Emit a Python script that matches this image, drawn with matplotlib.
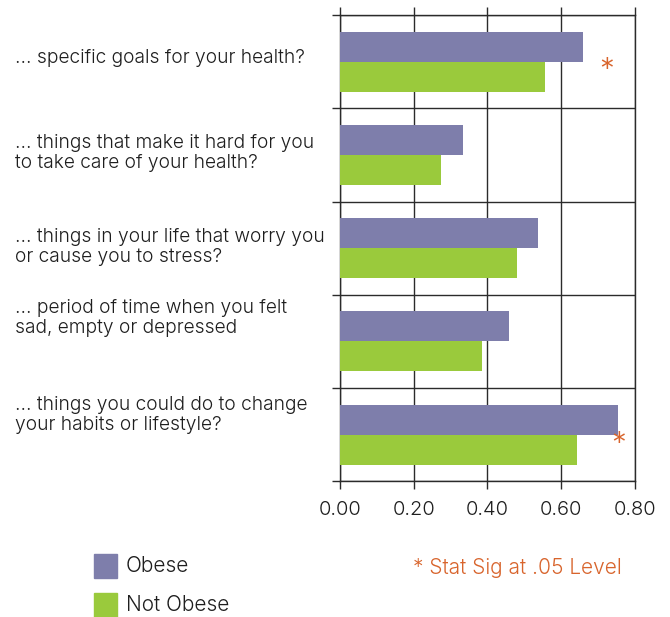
import numpy as np
import matplotlib.pyplot as plt
from matplotlib.patches import Rectangle
from matplotlib.transforms import blended_transform_factory

plt.rcParams['font.family'] = ['Inter', 'DejaVu Sans']
plt.rcParams['font.weight'] = 300

questions = [
    "... specific goals for your health?",
    "... things that make it hard for you\nto take care of your health?",
    "... things in your life that worry you\nor cause you to stress?",
    "... period of time when you felt\nsad, empty or depressed",
    "... things you could do to change\nyour habits or lifestyle?",
]
obese = [0.659, 0.334, 0.537, 0.459, 0.754]
not_obese = [0.556, 0.274, 0.480, 0.385, 0.643]
significant = [True, False, False, False, True]
xticks = [0.0, 0.2, 0.4, 0.6, 0.8]

PURPLE = "#7e7eab"
GREEN = "#9aca3c"
ORANGE = "#d8642c"
INK = "#1e1e1e"
GRID = "#2b2b2b"

fig = plt.figure(figsize=(6.7, 6.17), dpi=100)
ax = fig.add_axes([0.5075, 0.2199, 0.4398, 0.7558])

y = np.arange(len(questions))
h = 0.3215
ax.barh(y - h / 2, obese, height=h, color=PURPLE, zorder=3)
ax.barh(y + h / 2, not_obese, height=h, color=GREEN, zorder=3)

ax.set_xlim(0, 0.8)
ax.set_ylim(len(questions) - 0.5, -0.5)
ax.set_xticks(xticks)
ax.set_xticklabels([f"{t:.2f}" for t in xticks], fontsize=14.5, color=INK)
ax.set_yticks([])
ax.set_yticks(np.arange(-0.5, len(questions)), minor=True)
ax.tick_params(axis="x", which="major", direction="out", length=5.8, width=1.0,
               color=GRID, pad=8.5, top=True)
ax.tick_params(axis="y", which="minor", direction="out", length=5.5, width=1.0,
               color=GRID, labelleft=False)
ax.grid(True, axis="x", color=GRID, lw=1.0, zorder=1)
ax.grid(True, axis="y", which="minor", color=GRID, lw=1.0, zorder=1)
for s in ax.spines.values():
    s.set_color(GRID)
    s.set_linewidth(1.0)
    s.set_zorder(2)

# question labels down the left side
trans = blended_transform_factory(fig.transFigure, ax.transData)
label_y = [-0.04, 0.98, 1.99, 2.75, 3.79]
for q, ly in zip(questions, label_y):
    ax.text(0.0224, ly, q, transform=trans, ha="left", va="center",
            fontsize=13.85, color=INK, linespacing=1.12, clip_on=False)

# significance markers
star_pos = [(0.724, 0.10), None, None, None, (0.757, 4.10)]
for sig, pos in zip(significant, star_pos):
    if sig and pos:
        ax.text(pos[0], pos[1], "*", ha="center", va="center",
                fontsize=21, color=ORANGE, zorder=4)

# legend
fig.add_artist(Rectangle((0.1403, 0.0632), 0.0343, 0.0389, transform=fig.transFigure,
                         color=PURPLE))
fig.add_artist(Rectangle((0.1403, 0.0), 0.0343, 0.0389, transform=fig.transFigure,
                         color=GREEN))
fig.text(0.188, 0.0827, "Obese", ha="left", va="center", fontsize=15, color=INK)
fig.text(0.188, 0.0194, "Not Obese", ha="left", va="center", fontsize=15, color=INK)
fig.text(0.6164, 0.0794, "* Stat Sig at .05 Level", ha="left", va="center",
         fontsize=15, color=ORANGE)

fig.savefig("out.png", dpi=100)
